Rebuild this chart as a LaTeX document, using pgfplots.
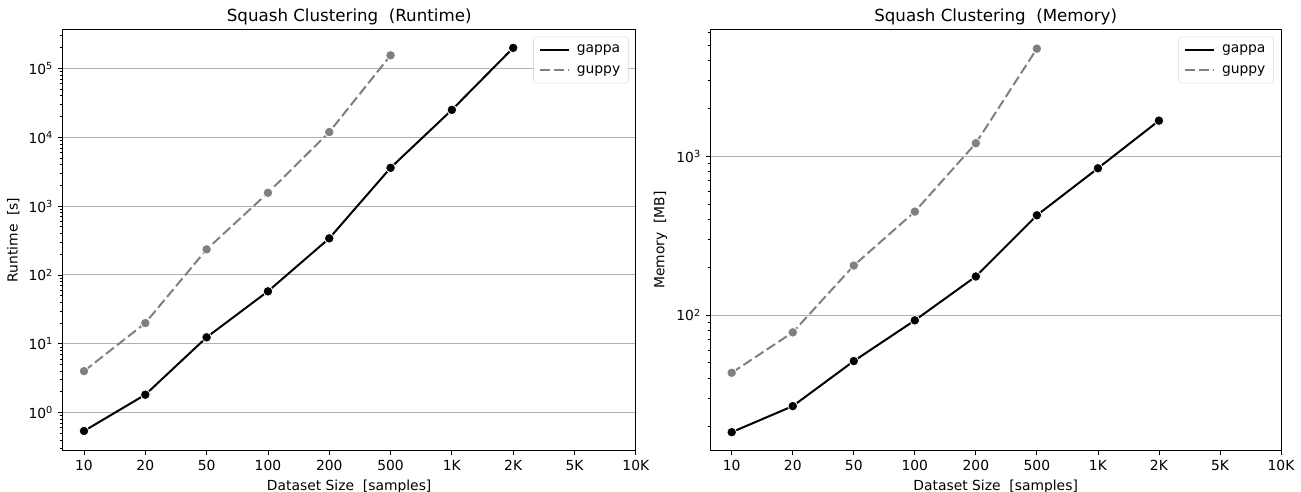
\documentclass[border=0pt]{standalone}
\usepackage{pgfplots}
\pgfplotsset{compat=1.18}
\usepackage{fontspec}
\setmainfont{DejaVu Sans}
\setsansfont{DejaVu Sans}
\definecolor{gridc}{HTML}{B0B0B0}
\definecolor{guppyc}{HTML}{808080}
\pgfplotsset{
  legend image code/.code={\draw[#1, mark=none] (0pt,0pt) -- (22pt,0pt);},
}
\pgfplotsset{
  mystyle/.style={
    scale only axis, height=316pt,
    xmin=-0.35, xmax=9,
    xtick={0,...,9}, xticklabels={10,20,50,100,200,500,1K,2K,5K,10K},
    tick align=outside, tick pos=left,
    major tick length=3.6pt, minor tick length=2.1pt,
    every tick/.style={black, line width=0.6pt},
    ymajorgrids, major grid style={color=gridc, line width=0.8pt},
    axis line style={line width=0.6pt},
    tick label style={font=\fontsize{10.4}{12}\selectfont},
    label style={font=\fontsize{10.4}{12}\selectfont},
    title style={font=\fontsize{12.5}{15}\selectfont, anchor=base},
    yticklabel={10\textsuperscript{\pgfmathparse{int(round(\tick))}\pgfmathresult}},
    /pgf/number format/assume math mode=true,
    legend style={at={(1,1)}, anchor=north east, xshift=-5.5pt, yshift=-5.5pt,
      draw=black!15, rounded corners=2pt, font=\fontsize{10.4}{12}\selectfont,
      inner xsep=4pt, inner ysep=4pt, row sep=4pt, column sep=3pt},
    legend cell align=left,
    xlabel={Dataset Size~~[samples]},
  },
  gappa/.style={black, line width=1.5pt, mark=*, mark size=3.6pt,
    mark options={solid, draw=white, line width=0.6pt, fill=black}},
  guppy/.style={guppyc, line width=1.5pt, dash pattern=on 7.5pt off 3pt, mark=*, mark size=3.6pt,
    mark options={solid, draw=white, line width=0.6pt, fill=guppyc}},
}
\begin{document}
\begin{tikzpicture}
\path[use as bounding box] (-46.9pt,-30.75pt) rectangle (928.9pt,338pt);
\begin{axis}[ymode=log, log basis y=10, mystyle, width=430pt, ymin=0.28, ymax=3.7e5,
  title={Squash Clustering~~(Runtime)}, ylabel={Runtime~~[s]}]
\addplot[gappa] coordinates {(0,0.54) (1,1.82) (2,12.4) (3,57.8) (4,340) (5,3600) (6,25000) (7,199000)};
\addplot[guppy] coordinates {(0,4.0) (1,20) (2,235) (3,1560) (4,11900) (5,155000)};
\legend{gappa,guppy}
\end{axis}
\begin{axis}[ymode=log, log basis y=10, mystyle, at={(485.9pt,0pt)}, width=428pt, ymin=14, ymax=6300,
  title={Squash Clustering~~(Memory)}, ylabel={Memory~~[MB]}]
\addplot[gappa] coordinates {(0,18.3) (1,26.7) (2,51.3) (3,92.6) (4,175) (5,425) (6,840) (7,1675)};
\addplot[guppy] coordinates {(0,43.3) (1,77.8) (2,205) (3,448) (4,1208) (5,4760)};
\legend{gappa,guppy}
\end{axis}
\end{tikzpicture}
\end{document}
